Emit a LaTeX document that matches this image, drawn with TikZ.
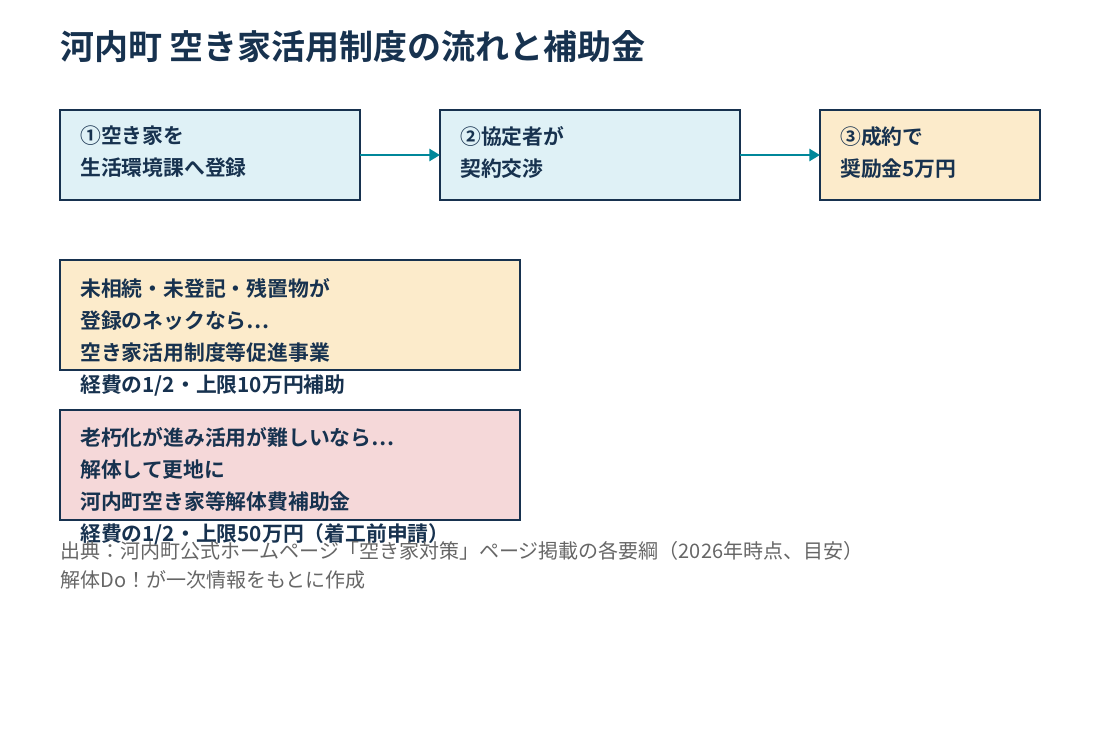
\documentclass[tikz,border=0pt]{standalone}
\usepackage{fontspec}
\setmainfont{Noto Sans CJK JP}[BoldFont={Noto Sans CJK JP Bold}]
\usetikzlibrary{positioning, arrows.meta}
\definecolor{navy}{HTML}{17324F}
\definecolor{teal}{HTML}{00879A}
\definecolor{bluebg}{HTML}{DFF1F6}
\definecolor{beigebg}{HTML}{FCEBCB}
\definecolor{pinkbg}{HTML}{F5D8D9}
\tikzset{
	box/.style={draw=navy, thick},
	box-text/.style={anchor=north west, align=left, inner sep=0pt,
		text=navy, font=\bfseries\fontsize{15.6}{24}\selectfont},
	flow-arrow/.style={line width=2.2pt, teal, -{Triangle[length=8pt,width=9pt]}},
}
\begin{document}
\begin{tikzpicture}[x=0.75pt, y=-0.75pt]
	\useasboundingbox (0,0) rectangle (1100,750);
	\node[anchor=west, inner sep=0pt, text=navy, font=\bfseries\fontsize{25.5}{30}\selectfont] (title) at (60,47) {河内町 空き家活用制度の流れと補助金};
	% flow
	\draw[box, fill=bluebg] (60,110) rectangle (360,200);
	\node[box-text] (step1) at (80,126) {①空き家を\\生活環境課へ登録};
	\draw[box, fill=bluebg] (440,110) rectangle (740,200);
	\node[box-text] (step2) at (460,126) {②協定者が\\契約交渉};
	\draw[box, fill=beigebg] (820,110) rectangle (1040,200);
	\node[box-text] (step3) at (840,126) {③成約で\\奨励金5万円};
	\coordinate (a1) at (360,155); \coordinate (b1) at (440,155);
	\coordinate (a2) at (740,155); \coordinate (b2) at (820,155);
	\draw[flow-arrow] (a1) -- (b1);
	\draw[flow-arrow] (a2) -- (b2);
	% subsidies
	\draw[box, fill=beigebg] (60,260) rectangle (520,370);
	\node[box-text] (aid1) at (80,278) {未相続・未登記・残置物が\\登録のネックなら…\\空き家活用制度等促進事業\\経費の1/2・上限10万円補助};
	\draw[box, fill=pinkbg] (60,410) rectangle (520,520);
	\node[box-text] (aid2) at (80,427) {老朽化が進み活用が難しいなら…\\解体して更地に\\河内町空き家等解体費補助金\\経費の1/2・上限50万円（着工前申請）};
	\node[anchor=north west, align=left, inner sep=0pt, text=black!60, font=\fontsize{15}{22}\selectfont] (source) at (60,541) {出典：河内町公式ホームページ「空き家対策」ページ掲載の各要綱（2026年時点、目安）\\解体Do！が一次情報をもとに作成};
\end{tikzpicture}
\end{document}
